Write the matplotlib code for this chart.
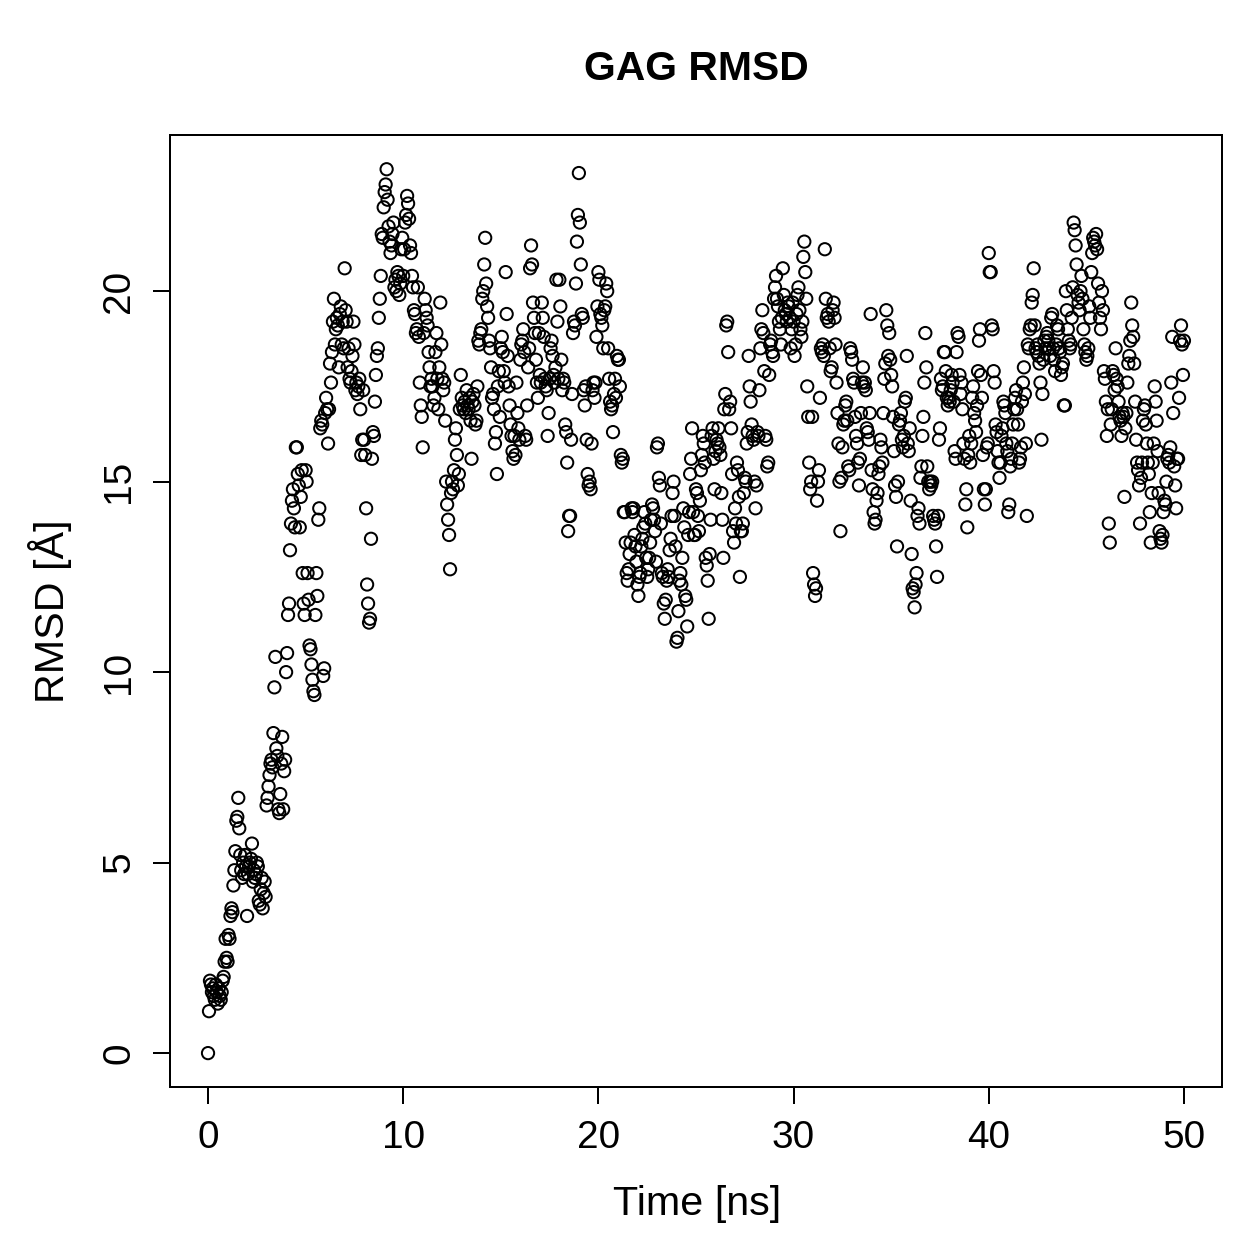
"""
Scatter plot of the GAG RMSD over a 50 ns simulation, in the style of an
R base graphics plot.
"""

import numpy as np
import matplotlib
matplotlib.use('Agg')
import matplotlib.pyplot as plt


# RMSD values [A], one row per nanosecond of simulation time
rmsd_rows = [
    [0.0, 1.1, 1.9, 1.8, 1.6, 1.7, 1.5, 1.4, 1.8, 1.6, 1.3, 1.7, 1.5,
     1.4, 1.6, 1.9, 2.0, 2.4, 3.0, 2.5],
    [2.4, 3.1, 3.0, 3.6, 3.8, 3.7, 4.4, 4.8, 5.3, 6.1, 6.2, 6.7, 5.9,
     5.2, 4.8, 4.6, 5.0, 4.7, 5.2, 4.9],
    [3.6, 4.7, 4.9, 5.0, 5.1, 5.5, 4.5, 4.8, 4.6, 4.7, 5.0, 4.9, 4.0,
     3.9, 4.3, 4.6, 3.8, 4.2, 4.5, 4.1],
    [6.5, 6.7, 7.0, 7.3, 7.6, 7.7, 7.5, 8.4, 9.6, 10.4, 8.0, 7.8, 6.4,
     6.3, 6.8, 7.6, 8.3, 6.4, 7.4, 7.7],
    [10.0, 10.5, 11.5, 11.8, 13.2, 13.9, 14.5, 14.8, 14.3, 13.8, 15.9,
     15.9, 15.2, 14.9, 13.8, 14.6, 15.3, 12.6, 11.8, 11.5],
    [15.3, 15.0, 12.6, 11.9, 10.7, 10.6, 10.2, 9.8, 9.5, 9.4, 11.5,
     12.6, 12.0, 14.0, 14.3, 16.4, 16.6, 16.5, 9.9, 10.1],
    [16.8, 17.2, 16.9, 16.0, 16.9, 18.1, 17.6, 18.4, 19.2, 19.8, 18.6,
     19.0, 19.3, 19.1, 18.0, 19.4, 19.6, 18.6, 19.2, 18.5],
    [20.6, 19.5, 19.2, 18.0, 18.5, 17.7, 17.6, 17.9, 18.3, 19.2, 18.6,
     17.4, 17.6, 17.3, 17.5, 17.7, 16.9, 15.7, 16.1, 17.4],
    [16.1, 15.7, 14.3, 12.3, 11.8, 11.3, 11.4, 13.5, 15.6, 16.3, 16.2,
     17.1, 17.8, 18.3, 18.5, 19.3, 19.8, 20.4, 21.5, 21.4],
    [22.2, 22.6, 22.8, 23.2, 22.4, 21.7, 21.3, 21.0, 21.2, 21.5, 21.8,
     20.1, 20.3, 20.0, 20.5, 20.4, 19.9, 20.2, 21.1, 21.4],
    [20.4, 21.1, 21.8, 22.0, 22.5, 22.3, 21.9, 21.2, 21.0, 20.4, 20.1,
     19.5, 19.4, 18.9, 19.0, 20.1, 18.8, 17.6, 17.0, 16.7],
    [15.9, 18.9, 19.8, 19.5, 19.3, 19.1, 18.4, 18.0, 17.5, 17.7, 17.5,
     17.0, 17.2, 18.4, 18.9, 17.7, 16.9, 18.0, 19.7, 18.6],
    [17.7, 17.4, 17.6, 16.6, 15.0, 14.4, 14.0, 13.6, 12.7, 14.7, 15.0,
     14.8, 15.3, 16.1, 16.4, 15.7, 14.9, 15.2, 16.9, 17.8],
    [17.2, 17.0, 16.9, 17.1, 16.8, 17.4, 17.0, 16.9, 17.2, 16.6, 15.6,
     17.1, 17.3, 17.0, 16.5, 16.6, 17.5, 18.7, 18.6, 18.9],
    [19.0, 19.8, 20.0, 20.7, 21.4, 20.2, 19.6, 19.3, 18.7, 18.5, 18.0,
     17.2, 17.3, 16.9, 16.0, 16.3, 15.2, 17.5, 17.9, 16.7],
    [18.5, 18.8, 18.4, 17.9, 17.6, 20.5, 19.4, 18.3, 17.5, 17.0, 16.5,
     16.2, 15.8, 15.6, 16.2, 15.7, 17.6, 16.8, 16.4, 16.1],
    [18.2, 18.6, 18.7, 19.0, 18.4, 16.2, 16.1, 17.0, 18.0, 18.5, 20.6,
     21.2, 20.7, 19.7, 19.3, 18.9, 18.2, 17.6, 17.2, 18.9],
    [17.8, 17.6, 19.7, 19.3, 18.8, 17.7, 17.5, 17.4, 16.2, 16.8, 17.7,
     18.5, 18.7, 18.3, 17.8, 17.6, 18.0, 20.3, 19.2, 17.7],
    [20.3, 19.6, 18.2, 17.4, 17.7, 17.6, 16.5, 16.3, 15.5, 13.7, 14.1,
     14.1, 16.1, 17.3, 18.9, 19.2, 19.1, 20.2, 21.3, 22.0],
    [23.1, 21.8, 20.7, 19.4, 19.3, 17.4, 17.0, 17.5, 16.1, 15.2, 14.9,
     15.0, 14.8, 16.0, 17.4, 17.6, 17.2, 17.6, 18.8, 19.6],
    [20.5, 20.3, 19.4, 19.3, 19.1, 18.5, 19.5, 19.6, 20.2, 20.0, 18.5,
     17.7, 17.1, 16.9, 17.0, 16.3, 17.3, 17.7, 17.2, 18.3],
    [18.2, 18.2, 17.5, 15.7, 15.5, 15.6, 14.2, 14.2, 13.4, 12.6, 12.4,
     12.7, 13.1, 13.4, 14.3, 14.2, 14.3, 13.6, 13.3, 12.9],
    [12.3, 12.0, 12.5, 12.6, 13.3, 13.5, 13.8, 14.2, 13.9, 13.0, 12.5,
     12.7, 13.0, 13.4, 14.0, 14.4, 14.3, 14.0, 13.7, 12.9],
    [15.9, 16.0, 15.1, 14.9, 13.9, 12.6, 12.5, 11.8, 11.4, 11.9, 12.4,
     12.7, 12.5, 13.2, 13.5, 14.1, 14.7, 15.0, 14.1, 13.3],
    [10.8, 10.9, 11.6, 12.4, 12.6, 12.3, 13.0, 14.3, 13.8, 12.0, 11.9,
     11.2, 13.6, 14.2, 15.2, 15.6, 16.4, 14.2, 13.6, 13.6],
    [14.8, 14.7, 14.1, 13.7, 14.5, 15.3, 15.7, 16.2, 16.0, 15.5, 13.0,
     12.8, 12.4, 11.4, 13.1, 14.0, 16.2, 16.4, 15.6, 14.8],
    [15.8, 16.1, 16.0, 16.4, 15.9, 15.7, 14.7, 14.0, 13.0, 16.9, 17.3,
     19.1, 19.2, 18.4, 16.9, 17.1, 16.4, 15.2, 13.7, 13.4],
    [14.3, 13.9, 15.5, 15.3, 14.6, 12.5, 13.7, 13.7, 13.9, 14.7, 15.1,
     15.0, 16.0, 16.3, 18.3, 17.5, 17.1, 16.5, 16.2, 16.1],
    [15.0, 14.3, 14.9, 16.3, 16.2, 17.4, 18.5, 19.0, 19.5, 18.9, 17.9,
     16.2, 16.1, 15.4, 15.5, 17.8, 18.6, 18.7, 18.4, 18.3],
    [19.8, 20.1, 20.4, 19.8, 19.6, 19.2, 19.0, 18.6, 19.3, 20.6, 19.9,
     19.5, 19.4, 19.2, 19.7, 19.6, 19.3, 18.5, 19.0, 19.7],
    [19.2, 18.3, 18.6, 19.4, 19.9, 20.1, 19.5, 19.0, 18.8, 19.2, 20.9,
     21.3, 20.5, 19.8, 17.5, 16.7, 15.5, 14.8, 15.0, 16.7],
    [12.6, 12.3, 12.0, 12.2, 14.5, 15.0, 15.3, 17.2, 18.5, 18.4, 18.6,
     18.3, 21.1, 19.8, 19.3, 19.4, 19.2, 18.5, 17.9, 18.0],
    [19.5, 19.7, 19.3, 18.6, 17.6, 16.8, 16.0, 15.0, 13.7, 15.1, 15.9,
     16.5, 16.6, 17.0, 17.1, 16.6, 15.4, 15.3, 18.5, 18.4],
    [18.2, 17.7, 17.6, 16.7, 16.2, 16.0, 15.5, 14.9, 15.6, 16.8, 17.6,
     18.0, 17.5, 17.6, 17.4, 16.4, 16.3, 16.1, 16.8, 19.4],
    [15.3, 14.8, 14.2, 13.9, 14.0, 14.5, 14.7, 15.2, 15.4, 16.1, 15.9,
     15.5, 16.8, 17.7, 18.1, 19.5, 19.1, 18.3, 18.9, 18.2],
    [17.8, 17.5, 16.7, 15.8, 14.9, 14.6, 13.3, 15.0, 16.5, 16.6, 16.8,
     16.1, 15.9, 16.2, 17.1, 17.2, 18.3, 16.0, 15.8, 16.4],
    [14.5, 13.1, 12.2, 12.1, 11.7, 12.3, 12.6, 14.1, 14.3, 13.9, 15.1,
     15.4, 16.2, 16.7, 17.6, 18.9, 18.0, 15.4, 15.0, 14.8],
    [15.0, 14.9, 15.0, 14.1, 14.0, 13.9, 13.3, 12.5, 14.1, 16.1, 16.4,
     17.7, 17.4, 17.5, 18.4, 18.4, 17.9, 17.2, 17.0, 17.2],
    [17.1, 17.4, 17.8, 17.6, 17.1, 15.8, 15.6, 18.4, 18.9, 18.8, 17.8,
     17.3, 17.6, 16.9, 16.0, 15.6, 14.4, 14.8, 13.8, 15.7],
    [16.2, 15.5, 16.0, 17.2, 17.5, 16.8, 16.6, 16.3, 17.0, 17.9, 18.7,
     19.0, 17.8, 17.2, 15.7, 14.8, 14.4, 14.8, 15.9, 16.0],
    [21.0, 20.5, 20.5, 19.1, 19.0, 17.9, 17.6, 16.5, 16.3, 15.8, 15.5,
     15.1, 15.5, 16.2, 16.4, 17.1, 17.0, 16.8, 16.0, 15.8],
    [14.2, 14.4, 15.4, 15.6, 16.0, 16.5, 16.9, 17.2, 17.4, 16.9, 16.5,
     15.5, 15.6, 15.9, 17.1, 17.6, 18.0, 17.3, 16.0, 14.1],
    [18.6, 18.5, 19.0, 19.1, 19.7, 19.9, 20.6, 19.1, 18.5, 18.4, 18.6,
     18.3, 18.1, 17.6, 16.1, 17.3, 18.2, 18.7, 18.5, 18.8],
    [18.9, 18.7, 18.5, 18.3, 19.3, 19.4, 18.5, 18.2, 17.9, 18.6, 19.1,
     19.0, 18.5, 18.4, 17.8, 18.0, 18.1, 17.0, 17.0, 20.0],
    [19.5, 19.0, 18.7, 18.5, 18.6, 19.3, 20.1, 21.8, 21.6, 21.2, 20.7,
     19.9, 19.7, 19.5, 20.0, 20.4, 19.8, 19.0, 18.6, 18.4],
    [18.2, 18.3, 18.5, 19.6, 19.3, 20.5, 21.0, 21.4, 21.3, 21.2, 21.5,
     21.1, 20.2, 19.7, 19.3, 19.0, 20.0, 19.5, 17.9, 17.7],
    [17.1, 16.2, 16.9, 13.9, 13.4, 16.5, 16.9, 17.9, 17.8, 17.4, 18.5,
     17.7, 17.5, 17.1, 16.7, 16.6, 16.2, 16.8, 16.7, 14.6],
    [16.4, 16.8, 17.6, 18.1, 18.3, 18.7, 19.7, 19.1, 18.8, 18.1, 17.1,
     16.1, 15.5, 15.3, 14.9, 13.9, 15.1, 15.5, 16.6, 16.9],
    [17.0, 16.5, 16.0, 15.5, 15.2, 14.2, 13.4, 14.7, 15.5, 16.0, 17.5,
     17.1, 16.6, 15.8, 14.7, 13.7, 13.5, 13.4, 13.6, 14.2],
    [14.5, 14.4, 15.0, 15.6, 15.7, 15.5, 15.9, 17.6, 18.8, 16.8, 15.4,
     14.9, 14.3, 15.6, 15.6, 17.2, 18.7, 19.1, 18.6, 17.8],
]
last_rmsd = 18.7

title = 'GAG RMSD'
x_label = 'Time [ns]'
y_label = 'RMSD [Å]'
x_ticks = [0, 10, 20, 30, 40, 50]
y_ticks = [0, 5, 10, 15, 20]


def build_series():
    """
    Turns the per-nanosecond rows into flat time / rmsd arrays,
    frames are written every 0.05 ns.
    """
    time = []
    rmsd = []
    for ns, row in enumerate(rmsd_rows):
        for k, value in enumerate(row):
            time.append(ns + k / len(row))
            rmsd.append(value)
    time.append(len(rmsd_rows))
    rmsd.append(last_rmsd)
    return np.array(time), np.array(rmsd)


def plot_rmsd():
    """
    Draws the RMSD scatter and saves it as out.png.
    """
    plt.rcParams['font.family'] = ['Liberation Sans', 'DejaVu Sans']
    time, rmsd = build_series()

    fig = plt.figure(figsize=(7, 7), dpi=179.86)
    ax = fig.add_axes([0.135, 0.1366, 0.8356, 0.7562])

    # open circles like R's pch = 1
    ax.scatter(time, rmsd, s=24, facecolors='none', edgecolors='black',
               linewidths=0.8)

    # axes limits with R's 4 % padding
    ax.set_xlim(-1.95, 51.95)
    ax.set_ylim(-0.89, 24.1)
    ax.set_xticks(x_ticks)
    ax.set_yticks(y_ticks)
    ax.tick_params(direction='out', length=7, width=0.8, labelsize=15.5,
                   pad=6)
    for label in ax.get_yticklabels():
        label.set_rotation(90)
        label.set_va('center')
    for spine in ax.spines.values():
        spine.set_linewidth(0.8)

    # labels
    fig.text(0.5535, 0.945, title, ha='center', va='center',
             fontsize=16.4, fontweight='bold')
    fig.text(0.5535, 0.044, x_label, ha='center', va='center',
             fontsize=16.5)
    fig.text(0.040, 0.5148, y_label, ha='center', va='center',
             fontsize=16.5, rotation=90)

    # save and close
    fig.savefig('out.png', dpi=179.86)
    plt.close(fig)


plot_rmsd()
